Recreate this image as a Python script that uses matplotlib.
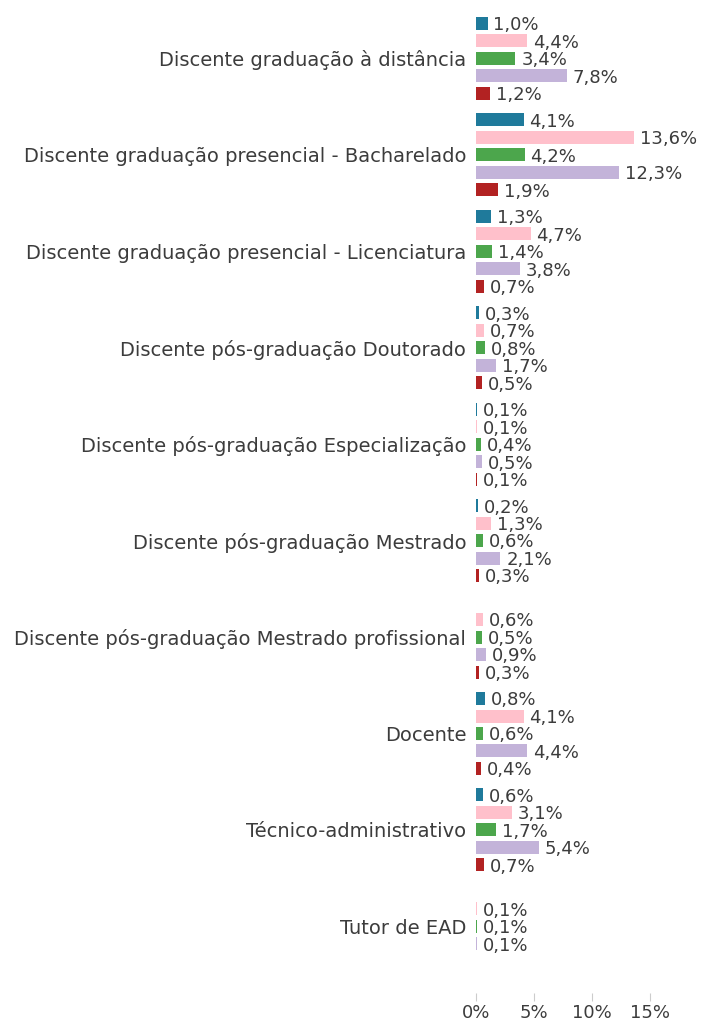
import numpy as np
import matplotlib
matplotlib.use("Agg")
import matplotlib.pyplot as plt

categorias = [
    "Discente graduação à distância",
    "Discente graduação presencial - Bacharelado",
    "Discente graduação presencial - Licenciatura",
    "Discente pós-graduação Doutorado",
    "Discente pós-graduação Especialização",
    "Discente pós-graduação Mestrado",
    "Discente pós-graduação Mestrado profissional",
    "Docente",
    "Técnico-administrativo",
    "Tutor de EAD",
]

# cinco series por categoria (None = sem barra)
serie_azul = [1.0, 4.1, 1.3, 0.3, 0.1, 0.2, None, 0.8, 0.6, None]
serie_rosa = [4.4, 13.6, 4.7, 0.7, 0.1, 1.3, 0.6, 4.1, 3.1, 0.1]
serie_verde = [3.4, 4.2, 1.4, 0.8, 0.4, 0.6, 0.5, 0.6, 1.7, 0.1]
serie_lilas = [7.8, 12.3, 3.8, 1.7, 0.5, 2.1, 0.9, 4.4, 5.4, 0.1]
serie_vermelha = [1.2, 1.9, 0.7, 0.5, 0.1, 0.3, 0.3, 0.4, 0.7, None]

series = [serie_azul, serie_rosa, serie_verde, serie_lilas, serie_vermelha]
cores = ["#1f7a9b", "#ffc0cb", "#4ca64c", "#c3b3d9", "#b22222"]

x_ticks = [0, 5, 10, 15]

plt.rcParams["font.family"] = ["DejaVu Sans"]
cor_texto = "#3c3c3c"

W, H = 704, 1023
fig = plt.figure(figsize=(W / 100, H / 100), dpi=100)
ax = fig.add_axes([476 / W, 30 / H, 228 / W, 983 / H])

passo = 17.5 / 96.5
altura = 13 / 96.5
y_base = np.arange(len(categorias))

for k, (valores, cor) in enumerate(zip(series, cores)):
    desloc = (k - 2) * passo
    for i, v in enumerate(valores):
        if v is None:
            continue
        y = y_base[i] + desloc
        ax.barh(y, v, height=altura, color=cor, linewidth=0)
        ax.text(v + 0.5, y + 0.02, f"{v:.1f}%".replace(".", ","),
                va="center", ha="left", fontsize=13, color=cor_texto)

ax.set_xlim(0, 19.65)
ax.set_ylim(9.69, -0.5)
ax.set_yticks(y_base)
ax.set_yticklabels(categorias, fontsize=14, color=cor_texto)
ax.tick_params(axis="y", length=0, pad=7)
ax.set_xticks(x_ticks)
ax.set_xticklabels([f"{t}%" for t in x_ticks], fontsize=13, color=cor_texto)
ax.tick_params(axis="x", length=6, color="#cccccc", pad=2)
for s in ax.spines.values():
    s.set_visible(False)

fig.savefig("out.png", dpi=100)
